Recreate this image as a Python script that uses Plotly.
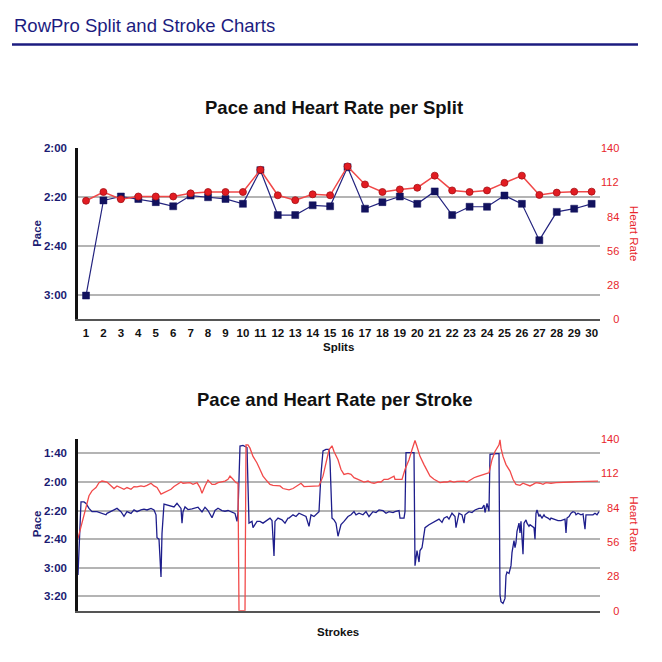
import plotly.graph_objects as go

# split chart data
splits = list(range(1, 31))
split_pace = [180.3, 141.3, 139.7, 140.7, 142.0, 143.7, 139.3, 140.0, 140.7, 142.7,
              128.9, 147.3, 147.3, 143.3, 143.7, 127.7, 144.7, 142.0, 139.7, 142.7,
              137.6, 147.3, 143.9, 143.9, 139.3, 142.7, 157.6, 146.0, 144.7, 142.7]
split_hr = [97.1, 104.3, 98.4, 100.6, 100.6, 100.6, 103.2, 104.3, 104.3, 104.3,
            122.5, 101.6, 97.6, 102.4, 101.6, 125.3, 110.5, 104.3, 106.4, 107.8,
            117.7, 105.6, 104.3, 105.6, 111.8, 117.7, 101.9, 103.8, 104.6, 104.6]

# stroke chart data (pace in seconds per 500m)
pace_stroke = [1, 4, 7, 9, 12, 15, 20, 24, 29, 30, 34, 37, 40, 44, 47, 50, 54, 57, 60, 64,
               67, 70, 74, 77, 79, 80, 82, 84, 85, 87, 90, 94, 97, 100, 104, 105, 106, 108, 111, 115,
               118, 121, 125, 128, 131, 135, 138, 141, 145, 148, 151, 155, 158, 160, 161, 163, 166, 170, 171, 172,
               175, 176, 180, 183, 186, 190, 193, 195, 197, 198, 201, 205, 208, 211, 212, 216, 219, 222, 226, 229,
               232, 234, 237, 241, 242, 244, 246, 249, 252, 253, 255, 257, 259, 261, 264, 267, 271, 274, 277, 279,
               282, 286, 289, 292, 296, 299, 302, 306, 309, 312, 316, 318, 322, 323, 327, 328, 329, 332, 335, 337,
               338, 340, 342, 343, 345, 347, 348, 352, 355, 358, 362, 365, 367, 370, 372, 375, 377, 378, 379, 382,
               385, 387, 388, 392, 395, 398, 402, 405, 407, 408, 410, 412, 413, 417, 420, 422, 423, 424, 426, 428,
               429, 430, 432, 434, 435, 437, 438, 439, 440, 442, 443, 444, 446, 447, 449, 450, 452, 453, 455, 457,
               458, 459, 460, 462, 463, 465, 467, 468, 471, 473, 474, 478, 481, 484, 488, 489, 490, 492, 494, 496,
               498, 499, 501, 504, 506, 508, 509, 513, 516, 518, 520, 522]
pace_sec = [185, 134, 134, 135, 138.5, 140.8, 140.8, 142, 143, 142, 140.8, 139.6, 138.5, 140.8, 144, 140.8, 142, 139.6, 140.8, 139.6,
            139, 139.6, 138.5, 139.6, 143, 159, 160, 186.5, 156, 135.5, 136, 137, 137.5, 135, 138.5, 148.8, 141, 137.5, 139.3, 138.8,
            138.4, 137.7, 141, 137.7, 140, 145, 140, 138.4, 140, 140.5, 140, 141, 142, 147.6, 141, 95, 94.5, 96, 132.7, 148.8,
            147.6, 152, 147.6, 147.6, 148.8, 146.5, 145.3, 147, 171.7, 147.6, 145.3, 146.5, 148.8, 145.3, 145.3, 143, 144.2, 141.9, 143, 144.2,
            151.1, 143, 144.2, 141.9, 140.8, 114.4, 98.4, 97.3, 97.3, 105, 145.3, 146.5, 148.8, 158, 149.9, 147.6, 144.2, 143, 140.8, 143,
            141.9, 143, 140.8, 144.2, 140.8, 141.4, 139.6, 140.1, 141.9, 140.8, 141.4, 140.8, 140.1, 145.3, 145.3, 140.8, 99.5, 99.5, 99.5, 99.5,
            178.5, 168, 176, 168, 166, 155.6, 152, 149.9, 148.8, 147.6, 146, 148.3, 145.3, 144.2, 146, 141.9, 143, 144.2, 152, 141.9,
            143, 148.8, 143, 140.8, 141.4, 139.6, 138.5, 138.5, 136.2, 141.4, 135.1, 140.5, 100.7, 100.2, 100.2, 100.2, 199, 203.7, 204.9, 201.4,
            185.4, 183, 184, 178.5, 169.4, 161, 166, 162.5, 154.5, 148.8, 155.6, 147.6, 170.5, 148.8, 146.5, 148.8, 151, 149.9, 151, 152,
            160, 141.9, 139.6, 144.2, 143, 145.3, 143, 144.2, 145.3, 146.5, 145.3, 146.5, 147, 147, 146, 155.6, 145.3, 144.2, 141.9, 140.8,
            141.4, 143, 141.9, 143, 142.4, 153, 143, 143, 143, 141.9, 143, 140.8]

hr_stroke = [1, 7, 12, 15, 19, 22, 25, 30, 34, 37, 40, 44, 47, 50, 54, 57, 60, 64, 67, 70,
             74, 77, 80, 84, 87, 90, 94, 97, 100, 104, 106, 110, 113, 116, 120, 123, 125, 128, 131, 135,
             138, 141, 145, 148, 151, 153, 156, 159, 161, 162, 168, 169, 171, 173, 176, 180, 183, 186, 190, 193,
             196, 200, 203, 206, 210, 212, 216, 219, 222, 224, 227, 231, 234, 237, 241, 242, 246, 249, 252, 255,
             257, 261, 264, 267, 271, 274, 277, 281, 284, 287, 291, 294, 297, 301, 304, 307, 311, 314, 317, 318,
             322, 325, 328, 332, 335, 338, 340, 343, 347, 350, 353, 357, 360, 363, 367, 370, 373, 377, 380, 383,
             387, 390, 393, 397, 400, 403, 407, 410, 412, 415, 418, 422, 423, 424, 426, 429, 433, 436, 439, 443,
             446, 449, 453, 456, 459, 463, 466, 469, 474, 479, 484, 489, 494, 501, 508, 514, 521]
hr_bpm = [58.9, 77.6, 93.7, 97.7, 100.4, 104.4, 105.7, 104.9, 101.7, 99.6, 101.7, 100.4, 99, 100.4, 99, 101.2, 100.9, 101.7, 101.2, 102.2,
          103.9, 101.7, 100.4, 95, 96.4, 97.7, 99, 101.2, 103, 104.9, 103.9, 103.9, 104.4, 103, 104.4, 100.4, 95.8, 101.7, 106.5, 103,
          103, 104.4, 104.9, 105.7, 107.1, 109.7, 107.1, 104.4, 104, 0, 0, 135.2, 135.2, 132.5, 125.8, 120.4, 115.1, 109.7, 105.7, 103,
          102.2, 101.7, 101.7, 99.6, 98.5, 98.5, 99.6, 101.2, 102.2, 103.9, 101.2, 101.2, 101.7, 101.7, 101.2, 101.7, 109.7, 120.4, 131.2, 134.4,
          129.8, 123.1, 115.1, 111.1, 111.9, 111.1, 108.4, 107.1, 105.7, 104.9, 105.7, 104.4, 103.9, 104.9, 104.9, 107.1, 107.1, 108.4, 109.7, 107.1,
          107.1, 107.1, 115.1, 123.1, 131.2, 138.7, 133.8, 125.8, 119.1, 113.8, 109.7, 107.1, 105.7, 104.4, 104.9, 104.9, 105.7, 104.9, 105.5, 105.7,
          105.7, 104.9, 106.5, 108.4, 109.2, 110.3, 111.1, 111.9, 112.4, 123.1, 129.8, 135.2, 139.2, 132.5, 125.8, 119.1, 113.8, 107.1, 103, 102.2,
          103.9, 103, 101.7, 103, 104.4, 103.9, 103, 104.4, 103.9, 104.4, 104.4, 104.4, 104.9, 105.2, 105.5, 105.7, 105.7]

# axis ticks
split_pace_ticks = [120, 140, 160, 180]
split_pace_labels = ["2:00", "2:20", "2:40", "3:00"]
stroke_pace_ticks = [100, 120, 140, 160, 180, 200]
stroke_pace_labels = ["1:40", "2:00", "2:20", "2:40", "3:00", "3:20"]
hr_ticks = [0, 28, 56, 84, 112, 140]
hr_labels = ["0", "28", "56", "84", "112", "140"]

FONT = "Liberation Sans, Arial, sans-serif"
NAVY = "#1b1b72"
RED = "#e8262b"
PAGE = 662
BODY = 8          # default page margin around the plot div
W = H = PAGE - 2 * BODY


def px(v):
    # page pixel -> paper fraction
    return (v - BODY) / W


def py(v):
    return 1 - (v - BODY) / H


# right-align the heart rate labels with figure spaces
hr_text = [s.rjust(3).replace(" ", "\u2007") for s in hr_labels]

xdom = [px(78), px(600)]
pace_font = dict(family=FONT, size=11.5, color=NAVY, weight="bold")
hr_font = dict(family=FONT, size=11, color=RED)

fig = go.Figure()

# split chart
fig.add_trace(go.Scatter(x=splits, y=split_pace, xaxis="x", yaxis="y", mode="lines+markers",
                         line=dict(color="#24247f", width=1.2),
                         marker=dict(symbol="square", size=7, color="#12125e",
                                     line=dict(color="#12125e", width=0.5))))
fig.add_trace(go.Scatter(x=splits, y=split_hr, xaxis="x", yaxis="y2", mode="lines+markers",
                         line=dict(color="#f04848", width=1.5),
                         marker=dict(symbol="circle", size=7, color="#e21c22",
                                     line=dict(color="#a51015", width=0.8))))

# stroke chart
fig.add_trace(go.Scatter(x=pace_stroke, y=pace_sec, xaxis="x2", yaxis="y3", mode="lines",
                         line=dict(color="#1e1e8c", width=1.3)))
fig.add_trace(go.Scatter(x=hr_stroke, y=hr_bpm, xaxis="x2", yaxis="y4", mode="lines",
                         line=dict(color="#f24a4a", width=1.3)))

grid = dict(showgrid=True, gridcolor="#b4b4b4", gridwidth=1.5, zeroline=False)

fig.update_layout(
    width=W, height=H, margin=dict(l=0, r=0, t=0, b=0),
    paper_bgcolor="white", plot_bgcolor="white", showlegend=False,
    font=dict(family=FONT),
    xaxis=dict(domain=xdom, anchor="y", range=[0.54, 30.48], tickvals=splits,
               ticktext=[str(s) for s in splits], tickangle=0,
               tickfont=dict(family=FONT, size=11.5, color="#111", weight="bold"),
               showgrid=False, zeroline=False, showline=True, linecolor="#555", linewidth=2,
               ticks="", ticklabelstandoff=2),
    yaxis=dict(domain=[py(319), py(145)], anchor="x", range=[190, 120],
               tickvals=split_pace_ticks, ticktext=split_pace_labels, tickfont=pace_font,
               showline=True, linecolor="#111", linewidth=2.5, ticks="", ticklabelstandoff=6, **grid),
    yaxis2=dict(overlaying="y", side="right", anchor="x", range=[0, 140],
                tickvals=hr_ticks, ticktext=hr_text, tickfont=hr_font,
                showgrid=False, zeroline=False, showline=False, ticks="", ticklabelstandoff=0),
    xaxis2=dict(domain=xdom, anchor="y3", range=[1, 523], showticklabels=False,
                showgrid=False, zeroline=False, showline=True, linecolor="#555", linewidth=2, ticks=""),
    yaxis3=dict(domain=[py(616), py(441)], anchor="x2", range=[210, 90],
                tickvals=stroke_pace_ticks, ticktext=stroke_pace_labels, tickfont=pace_font,
                showline=True, linecolor="#111", linewidth=2.5, ticks="", ticklabelstandoff=6, **grid),
    yaxis4=dict(overlaying="y3", side="right", anchor="x2", range=[0, 140],
                tickvals=hr_ticks, ticktext=hr_text, tickfont=hr_font,
                showgrid=False, zeroline=False, showline=False, ticks="", ticklabelstandoff=0),
)

ann = dict(xref="paper", yref="paper", showarrow=False)
fig.add_annotation(text="RowPro Split and Stroke Charts", x=px(12), y=py(20), xanchor="left",
                   yanchor="middle", font=dict(family=FONT, size=18.5, color="#1c1c80"), **ann)
fig.add_annotation(text="Pace and Heart Rate per Split", x=px(334), y=py(103), xanchor="center",
                   yanchor="middle", font=dict(family=FONT, size=18.5, color="#111", weight="bold"), **ann)
fig.add_annotation(text="Pace and Heart Rate per Stroke", x=px(335), y=py(401), xanchor="center",
                   yanchor="middle", font=dict(family=FONT, size=18.5, color="#111", weight="bold"), **ann)
fig.add_annotation(text="Splits", x=px(338), y=py(347), xanchor="center", yanchor="middle",
                   font=dict(family=FONT, size=11.5, color="#111", weight="bold"), **ann)
fig.add_annotation(text="Strokes", x=px(338), y=py(638), xanchor="center", yanchor="middle",
                   font=dict(family=FONT, size=11.5, color="#111", weight="bold"), **ann)
for yc in (232, 528):
    fig.add_annotation(text="Pace", x=px(37), y=py(yc), xanchor="center", yanchor="middle",
                       textangle=-90, font=dict(family=FONT, size=11.5, color=NAVY, weight="bold"), **ann)
    fig.add_annotation(text="Heart Rate", x=px(634), y=py(yc), xanchor="center", yanchor="middle",
                       textangle=90, font=dict(family=FONT, size=11.5, color=RED), **ann)

fig.add_shape(type="line", xref="paper", yref="paper", x0=px(12), x1=px(638), y0=py(39), y1=py(39),
              line=dict(color="#1c1c80", width=2.5))

fig.write_html("out.html", config={"displayModeBar": False})
